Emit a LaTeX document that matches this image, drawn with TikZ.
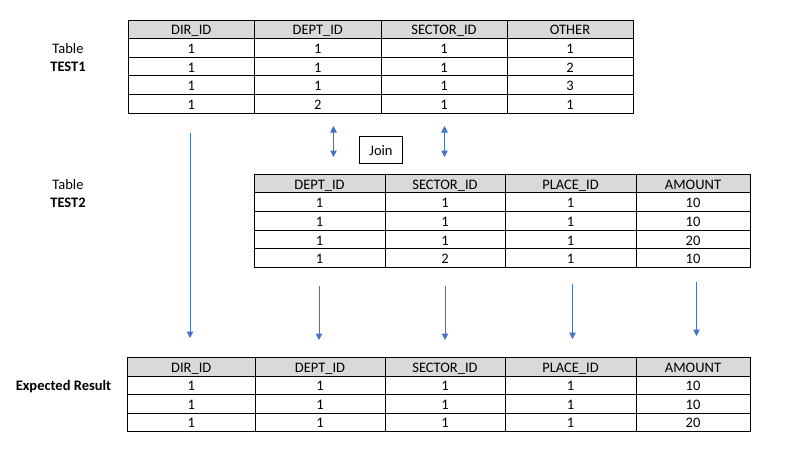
\documentclass[tikz,border=0pt]{standalone}
\usepackage{fontspec}
\setmainfont{Carlito}
\usetikzlibrary{arrows.meta}
\definecolor{hdrgray}{RGB}{217,217,217}
\definecolor{arrblue}{RGB}{68,114,196}
\tikzset{
  txt/.style={font=\fontsize{14.5}{17}\selectfont, inner sep=0pt},
  celltxt/.style={txt, text height=12pt, text depth=0.7pt},
  cellbox/.style={celltxt, draw=black, line width=0.9pt, rectangle, minimum height=18.6pt, anchor=center},
  hdr/.style={cellbox, fill=hdrgray},
  downarrow/.style={draw=arrblue, line width=1pt, -{Triangle[width=6.5pt,length=6.5pt]}},
  botharrow/.style={draw=arrblue, line width=1pt, {Triangle[width=6.5pt,length=6.5pt]}-{Triangle[width=6.5pt,length=6.5pt]}},
  joinbox/.style={celltxt, draw=black, line width=0.9pt, minimum width=43pt, minimum height=27pt},
}
\begin{document}
\begin{tikzpicture}[x=1pt,y=-1pt]
\path[use as bounding box, fill=white] (0,0) rectangle (806,461);

% ---------- Table TEST1 ----------
\foreach \xa/\xb/\h/\va/\vb/\vc/\vd [count=\i] in {
  128/254.5/DIR\_ID/1/1/1/1,
  254.5/381/DEPT\_ID/1/1/1/2,
  381/507/SECTOR\_ID/1/1/1/1,
  507/633/OTHER/1/2/3/1}{
  \node[hdr, minimum width={\xb-\xa}] (ta-h\i) at ({(\xa+\xb)/2},29.3) {\h};
  \foreach \v [count=\j] in {\va,\vb,\vc,\vd}{
    \node[cellbox, minimum width={\xb-\xa}] (ta-\i-\j) at ({(\xa+\xb)/2},{20+18.6*(\j+0.5)}) {\v};
  }
}

% ---------- Table TEST2 ----------
\foreach \xa/\xb/\h/\va/\vb/\vc/\vd [count=\i] in {
  254/385/DEPT\_ID/1/1/1/1,
  385/505/SECTOR\_ID/1/1/1/2,
  505/636/PLACE\_ID/1/1/1/1,
  636/750/AMOUNT/10/10/20/10}{
  \node[hdr, minimum width={\xb-\xa}] (tb-h\i) at ({(\xa+\xb)/2},183.6) {\h};
  \foreach \v [count=\j] in {\va,\vb,\vc,\vd}{
    \node[cellbox, minimum width={\xb-\xa}] (tb-\i-\j) at ({(\xa+\xb)/2},{174.3+18.6*(\j+0.5)}) {\v};
  }
}

% ---------- Expected Result ----------
\foreach \xa/\xb/\h/\va/\vb/\vc [count=\i] in {
  127.5/255/DIR\_ID/1/1/1,
  255/385/DEPT\_ID/1/1/1,
  385/505/SECTOR\_ID/1/1/1,
  505/636/PLACE\_ID/1/1/1,
  636/750/AMOUNT/10/10/20}{
  \node[hdr, minimum width={\xb-\xa}, minimum height=18.5pt] (tc-h\i) at ({(\xa+\xb)/2},366.8) {\h};
  \foreach \v [count=\j] in {\va,\vb,\vc}{
    \node[cellbox, minimum width={\xb-\xa}, minimum height=18.5pt] (tc-\i-\j) at ({(\xa+\xb)/2},{357.5+18.5*(\j+0.5)}) {\v};
  }
}

% ---------- Labels ----------
\node[celltxt] (lab1a) at (68,47.5) {Table};
\node[celltxt, font=\fontsize{14.5}{17}\selectfont\bfseries] (lab1b) at (68,66) {TEST1};
\node[celltxt] (lab2a) at (68,183.5) {Table};
\node[celltxt, font=\fontsize{14.5}{17}\selectfont\bfseries] (lab2b) at (68,202) {TEST2};
\node[celltxt, font=\fontsize{14.5}{17}\selectfont\bfseries] (lab3) at (63.5,385) {Expected Result};

% ---------- Join ----------
\node[joinbox] (join) at (381,149.5) {Join};
\coordinate (j1t) at (333.5,126);
\coordinate (j1b) at (333.5,157);
\coordinate (j2t) at (444.5,126);
\coordinate (j2b) at (444.5,157);
\draw[botharrow] (j1t) -- (j1b);
\draw[botharrow] (j2t) -- (j2b);

% ---------- Down arrows ----------
\coordinate (d1s) at (190,133);
\coordinate (d1e) at (190,338);
\coordinate (d2s) at (319,286);
\coordinate (d2e) at (319,340);
\coordinate (d3s) at (445,286);
\coordinate (d3e) at (445,340);
\coordinate (d4s) at (572.5,284);
\coordinate (d4e) at (572.5,339);
\coordinate (d5s) at (696.5,281.5);
\coordinate (d5e) at (696.5,336);
\foreach \k in {1,...,5}{
  \draw[downarrow] (d\k s) -- (d\k e);
}
\end{tikzpicture}
\end{document}
